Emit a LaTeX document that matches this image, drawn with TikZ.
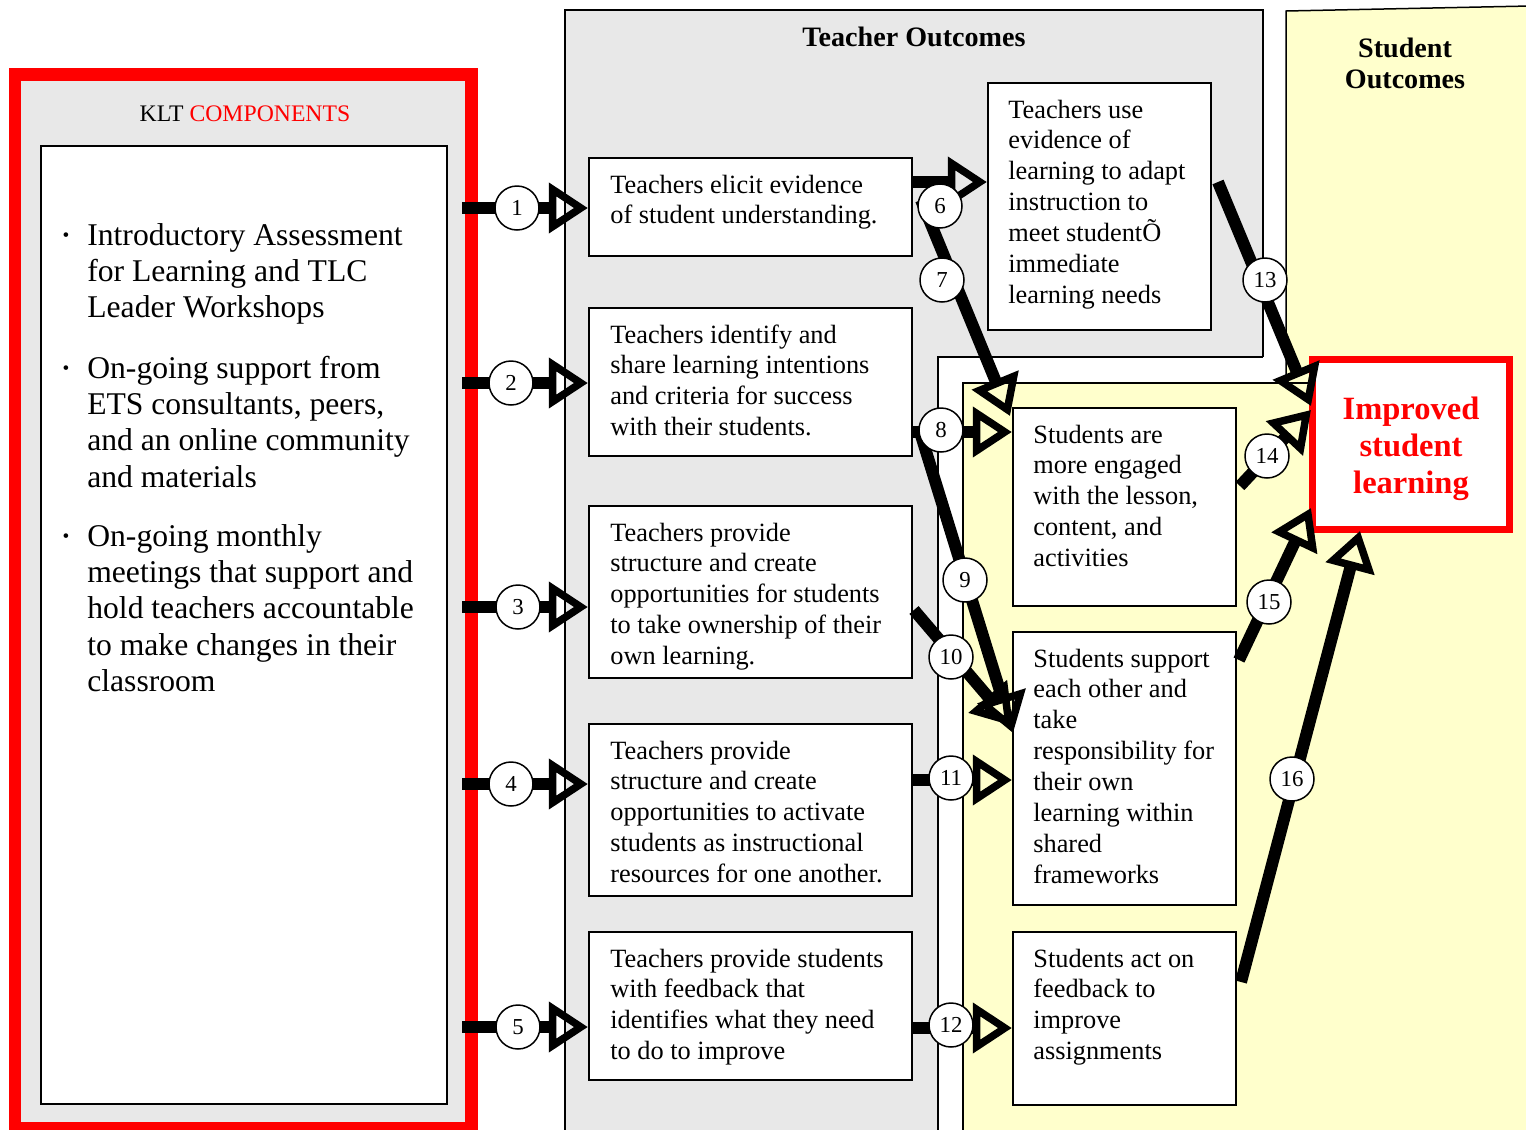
\documentclass[tikz,border=0pt]{standalone}
\usepackage{fontspec}
\setmainfont{Liberation Serif}
\usetikzlibrary{arrows.meta,fit}
\definecolor{panelgray}{HTML}{E8E8E8}
\definecolor{paleyellow}{HTML}{FFFFCC}
\definecolor{klred}{HTML}{FF0000}
\newcommand\boxtxt[1]{\parbox[t]{6.4cm}{\raggedright #1}}
\newcommand\bulltxt[1]{\parbox[t]{7.4cm}{\raggedright\leavevmode\llap{\raisebox{0.12em}{\fontsize{11}{11}\selectfont\textbullet}\hspace{0.36cm}}#1}}
\begin{document}
\begin{tikzpicture}[x=0.02cm,y=-0.02cm,
  thinline/.style={line width=0.03cm},
  box/.style={draw=black, line width=0.045cm, fill=white, inner sep=0pt},
  btxt/.style={anchor=base west, inner sep=0pt, font=\fontsize{15}{17.6}\selectfont},
  bul/.style={anchor=base west, inner sep=0pt, font=\fontsize{18}{20.75}\selectfont},
  hdr/.style={anchor=base, inner sep=0pt, font=\bfseries\fontsize{16}{18}\selectfont},
  arr/.style={line width=0.24cm, -{Triangle[open, length=0.78cm, width=0.98cm, line width=0.15cm]}},
  num/.style={circle, draw=black, line width=0.03cm, fill=white, minimum size=0.88cm, inner sep=0pt, font=\fontsize{13}{13}\selectfont}]
\useasboundingbox (0,0) rectangle (1526,1130);

% ---------- panels ----------
\filldraw[fill=panelgray, thinline] (565,10) rectangle (1263,1140);
\fill[white] (938,357) rectangle (1286,1140);
\draw[thinline] (938,1140) -- (938,357) -- (1263,357);
\fill[paleyellow] (1286,11) -- (1530,6) -- (1530,1140) -- (1286,1140) -- cycle;
\draw[thinline] (1286,383) -- (1286,11) -- (1530,6);
\fill[paleyellow] (963,383) rectangle (1530,1140);
\draw[thinline] (963,1140) -- (963,383) -- (1310,383);

\node[hdr] (tohdr) at (914,46) {Teacher Outcomes};
\node[hdr] (sohdr) at (1405,57) {\parbox[t]{4cm}{\centering Student\\Outcomes}};

% ---------- KLT components ----------
\node[fit={(15,74)(471,1128)}, inner sep=0pt, draw=klred, line width=0.26cm, fill=panelgray] (klt) {};
\node[inner sep=0pt, font=\fontsize{13.5}{16}\selectfont] (klthdr) at (245,114) {KLT \textcolor{klred}{COMPONENTS}};
\node[box, fit={(41,146)(447,1104)}] (kltlist) {};
\node[bul] (b1) at (87,245) {\bulltxt{Introductory Assessment\\for Learning and TLC\\Leader Workshops}};
\node[bul] (b2) at (87,378) {\bulltxt{On-going support from\\ETS consultants, peers,\\and an online community\\and materials}};
\node[bul] (b3) at (87,546) {\bulltxt{On-going monthly\\meetings that support and\\hold teachers accountable\\to make changes in their\\classroom}};

% ---------- teacher boxes ----------
\node[box, fit={(589,158)(912,256)}] (t1) {};
\node[box, fit={(589,308)(912,456)}] (t2) {};
\node[box, fit={(589,506)(912,678)}] (t3) {};
\node[box, fit={(589,724)(912,896)}] (t4) {};
\node[box, fit={(589,932)(912,1080)}] (t5) {};
\node[box, fit={(988,83)(1211,330)}] (t6) {};
\node[btxt] (t1t) at (610,193) {\boxtxt{Teachers elicit evidence\\of student understanding.}};
\node[btxt] (t2t) at (610,343) {\boxtxt{Teachers identify and\\share learning intentions\\and criteria for success\\with their students.}};
\node[btxt] (t3t) at (610,541) {\boxtxt{Teachers provide\\structure and create\\opportunities for students\\to take ownership of their\\own learning.}};
\node[btxt] (t4t) at (610,759) {\boxtxt{Teachers provide\\structure and create\\opportunities to activate\\students as instructional\\resources for one another.}};
\node[btxt] (t5t) at (610,967) {\boxtxt{Teachers provide students\\with feedback that\\identifies what they need\\to do to improve}};
\node[btxt] (t6t) at (1008,118) {\boxtxt{Teachers use\\evidence of\\learning to adapt\\instruction to\\meet student\~O\\immediate\\learning needs}};

% ---------- student boxes ----------
\node[box, fit={(1013,408)(1236,606)}] (s1) {};
\node[box, fit={(1013,632)(1236,905)}] (s2) {};
\node[box, fit={(1013,932)(1236,1105)}] (s3) {};
\node[btxt] (s1t) at (1033,443) {\boxtxt{Students are\\more engaged\\with the lesson,\\content, and\\activities}};
\node[btxt] (s2t) at (1033,667) {\boxtxt{Students support\\each other and\\take\\responsibility for\\their own\\learning within\\shared\\frameworks}};
\node[btxt] (s3t) at (1033,967) {\boxtxt{Students act on\\feedback to\\improve\\assignments}};

\node[draw=klred, line width=0.14cm, fill=white, minimum width=3.96cm, minimum height=3.42cm, inner sep=0pt] (imp) at (1411,444.5) {};
\node[inner sep=0pt, align=center, text=klred, font=\bfseries\fontsize{18.5}{21}\selectfont] (imptxt) at (1411,449) {Improved\\student\\learning};

% ---------- coordinates ----------
\coordinate (kr) at (462,0);
\coordinate (c1) at (517,208);
\coordinate (c2) at (511,383);
\coordinate (c3) at (518,607);
\coordinate (c4) at (511,784);
\coordinate (c5) at (518,1027);
\coordinate (l6) at (0,182);
\coordinate (l8) at (0,432);
\coordinate (l11) at (0,780);
\coordinate (l12) at (0,1028);
\coordinate (s7) at (921,200);   \coordinate (e7) at (1010,416);
\coordinate (s9) at (920,432);   \coordinate (e9) at (1013,733);
\coordinate (s10) at (914,610);  \coordinate (e10) at (1013,726);
\coordinate (s13) at (1218,182); \coordinate (e13) at (1311,406);
\coordinate (s14) at (1240,486); \coordinate (e14) at (1311,410);
\coordinate (s15) at (1239,660); \coordinate (e15) at (1311,508);
\coordinate (s16) at (1241,982); \coordinate (e16) at (1360,531);

% ---------- arrows ----------
\draw[arr] (kr |- c1) -- (t1.west |- c1);
\draw[arr] (kr |- c2) -- (t2.west |- c2);
\draw[arr] (kr |- c3) -- (t3.west |- c3);
\draw[arr] (kr |- c4) -- (t4.west |- c4);
\draw[arr] (kr |- c5) -- (t5.west |- c5);
\draw[arr] (t1.east |- l6) -- (t6.west |- l6);
\draw[arr] (s7) -- (e7);
\draw[arr] (t2.east |- l8) -- (s1.west |- l8);
\draw[arr] (s9) -- (e9);
\draw[arr] (s10) -- (e10);
\draw[arr] (t4.east |- l11) -- (s2.west |- l11);
\draw[arr] (t5.east |- l12) -- (s3.west |- l12);
\draw[arr] (s13) -- (e13);
\draw[arr] (s14) -- (e14);
\draw[arr] (s15) -- (e15);
\draw[arr] (s16) -- (e16);

% ---------- number circles ----------
\node[num] (n1) at (c1) {1};
\node[num] (n2) at (c2) {2};
\node[num] (n3) at (c3) {3};
\node[num] (n4) at (c4) {4};
\node[num] (n5) at (c5) {5};
\node[num] (n6) at (940,206) {6};
\node[num] (n7) at (942,280) {7};
\node[num] (n8) at (941,430) {8};
\node[num] (n9) at (965,580) {9};
\node[num] (n10) at (951,657) {10};
\node[num] (n11) at (951,778) {11};
\node[num] (n12) at (951,1025) {12};
\node[num] (n13) at (1265,280) {13};
\node[num] (n14) at (1267,456) {14};
\node[num] (n15) at (1269,602) {15};
\node[num] (n16) at (1292,779) {16};
\end{tikzpicture}
\end{document}
